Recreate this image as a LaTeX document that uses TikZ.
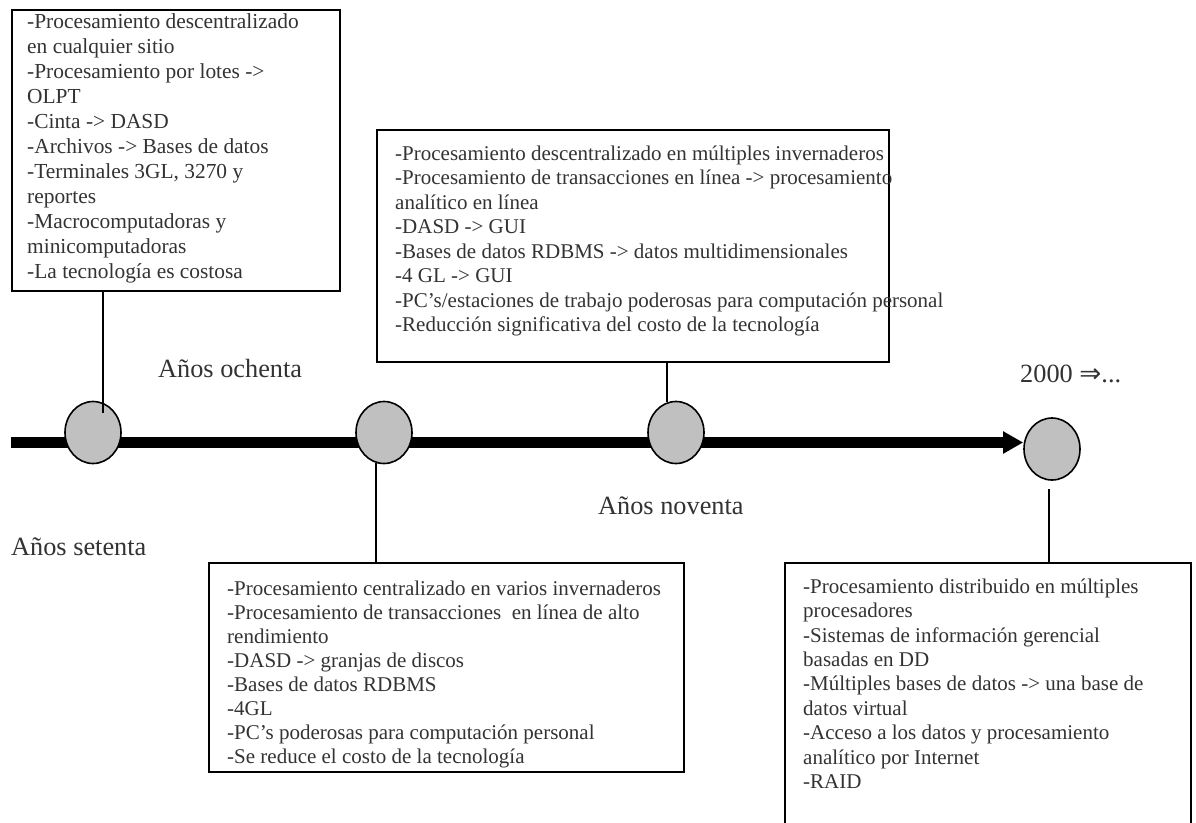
\documentclass[tikz,border=0pt]{standalone}
\usepackage{fontspec}
\setmainfont{Liberation Serif}
\newfontfamily\arrowfont{DejaVu Sans}
\usetikzlibrary{shapes.geometric,arrows.meta}
\definecolor{inkgray}{HTML}{333333}
\definecolor{dotfill}{HTML}{C0C0C0}
\begin{document}
\begin{tikzpicture}[x=1pt,y=-1pt,
  frame/.style={draw=black,line width=1.6pt,inner sep=0pt,anchor=north west},
  % multi-line lists are placed by the baseline of their last line
  listtext/.style={anchor=base west,align=left,inner sep=0pt,text=inkgray,
    font=\fontsize{21}{24.4}\selectfont},
  era/.style={anchor=base west,inner sep=0pt,text=inkgray,
    font=\fontsize{26.3}{30}\selectfont},
  stop/.style={ellipse,draw=black,line width=1.6pt,fill=dotfill,
    minimum width=56pt,minimum height=62pt,inner sep=0pt},
  stem/.style={draw=black,line width=1.6pt}]

\fill[white] (0,0) rectangle (1196,822);
\useasboundingbox (0,0) rectangle (1196,822);

% frames around the period descriptions
\node[frame,minimum width=328pt,minimum height=281pt] (box1) at (11,9) {};
\node[frame,minimum width=512pt,minimum height=232pt] (box3) at (376,129) {};
\node[frame,minimum width=475pt,minimum height=209pt] (box2) at (208,562) {};
\node[frame,minimum width=406pt,minimum height=290pt] (box4) at (784,562) {};

% time axis
\coordinate (barstart) at (11,442.5);
\node[stop] (c4) at (1052,449) {};
\draw[line width=11pt,-{Triangle[length=20pt,width=21pt]}] (barstart) -- (barstart -| c4.west);

% period markers
\node[stop] (c1) at (93,432.5) {};
\node[stop] (c2) at (384,432.5) {};
\node[stop] (c3) at (676,432.5) {};

% stems linking markers and frames
\coordinate (s1) at (103,413);
\coordinate (s2) at (376,463);
\coordinate (s3) at (667,402);
\coordinate (s4) at (1049,489);
\draw[stem] (s1 |- box1.south) -- (s1);
\draw[stem] (s2) -- (s2 |- box2.north);
\draw[stem] (s3 |- box3.south) -- (s3);
\draw[stem] (s4) -- (s4 |- box4.north);

% descriptions
\node[listtext,font=\fontsize{21.4}{25}\selectfont] (t1) at (27,278.3)
  {-Procesamiento descentralizado\\en cualquier sitio\\-Procesamiento por lotes ->\\OLPT\\-Cinta -> DASD\\-Archivos -> Bases de datos\\-Terminales 3GL, 3270 y\\reportes\\-Macrocomputadoras y\\minicomputadoras\\-La tecnología es costosa};

\node[listtext,font=\fontsize{21}{24.5}\selectfont] (t3) at (395,331.5)
  {-Procesamiento descentralizado en múltiples invernaderos\\-Procesamiento de transacciones en línea -> procesamiento\\analítico en línea\\-DASD -> GUI\\-Bases de datos RDBMS -> datos multidimensionales\\-4 GL -> GUI\\-PC’s/estaciones de trabajo poderosas para computación personal\\-Reducción significativa del costo de la tecnología};

\node[listtext,font=\fontsize{21}{24}\selectfont] (t2) at (227,763)
  {-Procesamiento centralizado en varios invernaderos\\-Procesamiento de transacciones~ en línea de alto\\rendimiento\\-DASD -> granjas de discos\\-Bases de datos RDBMS\\-4GL\\-PC’s poderosas para computación personal\\-Se reduce el costo de la tecnología};

\node[listtext] (t4) at (803,788.5)
  {-Procesamiento distribuido en múltiples\\procesadores\\-Sistemas de información gerencial\\basadas en DD\\-Múltiples bases de datos -> una base de\\datos virtual\\-Acceso a los datos y procesamiento\\analítico por Internet\\-RAID};

% period labels
\node[era] (l80) at (158,377) {Años ochenta};
\node[era] (l70) at (11,555) {Años setenta};
\node[era] (l90) at (598,514) {Años noventa};
\node[era] (l00) at (1020,382.7) {2000 {\arrowfont ⇒}...};

\end{tikzpicture}
\end{document}
